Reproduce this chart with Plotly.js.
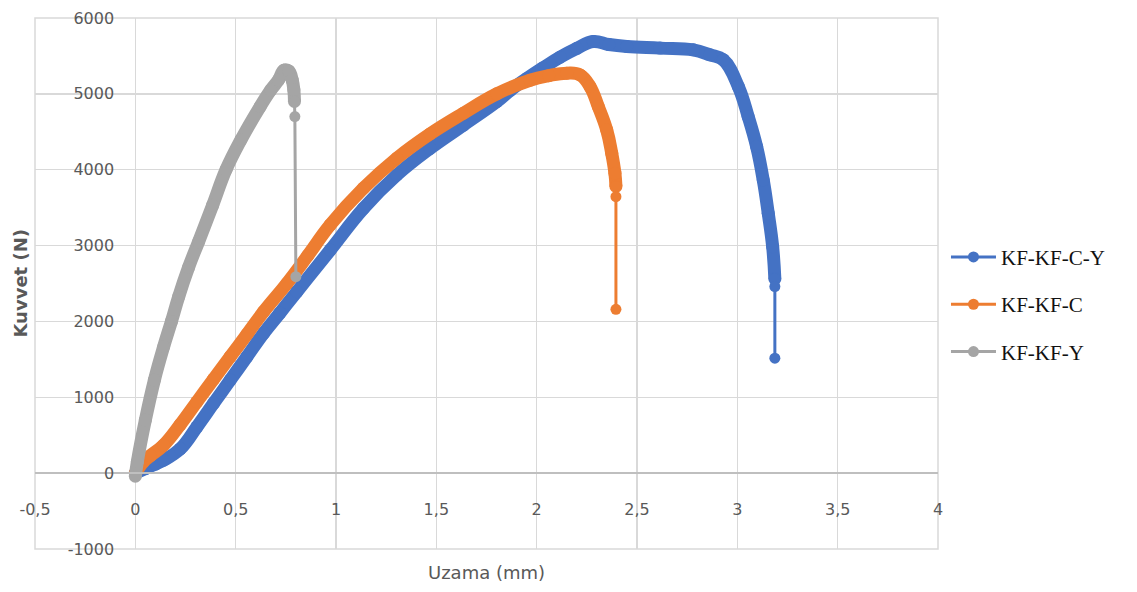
<!DOCTYPE html>
<html>
<head>
<meta charset="utf-8">
<script src="https://cdn.plot.ly/plotly-3.0.1.min.js"></script>
<style>html,body{margin:0;padding:0;background:#fff;}#chart{width:1137px;height:592px;}</style>
</head>
<body>
<div id="chart"></div>
<script>
// ---- Data ----
const seriesNames = ['KF-KF-C-Y', 'KF-KF-C', 'KF-KF-Y'];

// KF-KF-C-Y (blue)
const blueX = [0, 0.05, 0.1, 0.141, 0.224, 0.307, 0.39, 0.473, 0.556, 0.639, 0.72, 0.805, 0.971, 1.137, 1.303, 1.469, 1.635, 1.801, 1.87, 1.95, 2.03, 2.117, 2.2, 2.282, 2.36, 2.449, 2.615, 2.78, 2.864, 2.93, 3.005, 3.054, 3.096, 3.129, 3.154, 3.176, 3.187];
const blueY = [0, 60, 120, 171, 320, 611, 920, 1227, 1535, 1843, 2110, 2392, 2940, 3490, 3930, 4281, 4588, 4897, 5050, 5200, 5340, 5484, 5600, 5690, 5650, 5624, 5603, 5580, 5514, 5449, 5096, 4701, 4305, 3865, 3426, 2985, 2560];
const blueTailX = [3.187, 3.187, 3.187];
const blueTailY = [2560, 2460, 1515];

// KF-KF-C (orange)
const orangeX = [0, 0.04, 0.075, 0.141, 0.224, 0.307, 0.39, 0.473, 0.556, 0.639, 0.755, 0.86, 0.971, 1.137, 1.303, 1.469, 1.635, 1.801, 1.967, 2.06, 2.15, 2.216, 2.266, 2.307, 2.349, 2.374, 2.39, 2.395];
const orangeY = [0, 150, 230, 369, 640, 941, 1240, 1535, 1830, 2128, 2500, 2870, 3272, 3756, 4151, 4472, 4745, 5000, 5180, 5240, 5273, 5250, 5096, 4833, 4525, 4218, 3954, 3780];
const orangeTailX = [2.395, 2.395, 2.395];
const orangeTailY = [3780, 3645, 2160];

// KF-KF-Y (gray)
const grayX = [0, 0.01, 0.05, 0.095, 0.141, 0.18, 0.216, 0.265, 0.315, 0.385, 0.452, 0.526, 0.622, 0.675, 0.714, 0.74, 0.765, 0.782, 0.79, 0.793];
const grayY = [-40, 150, 700, 1227, 1666, 2000, 2326, 2710, 3050, 3530, 4000, 4393, 4833, 5050, 5185, 5310, 5300, 5180, 5050, 4900];
const grayTailX = [0.793, 0.795, 0.80];
const grayTailY = [4900, 4700, 2590];

// Tick labels
const xTickVals = [-0.5, 0, 0.5, 1, 1.5, 2, 2.5, 3, 3.5, 4];
const xTickText = ['-0,5', '0', '0,5', '1', '1,5', '2', '2,5', '3', '3,5', '4'];
const yTickVals = [-1000, 0, 1000, 2000, 3000, 4000, 5000, 6000];
const yTickText = ['-1000', '0', '1000', '2000', '3000', '4000', '5000', '6000'];

const xTitle = 'Uzama (mm)';
const yTitle = 'Kuvvet (N)';

const colors = ['#4472C4', '#ED7D31', '#A5A5A5'];

function body(x, y, color, name) {
  return {
    x: x, y: y, type: 'scatter', mode: 'lines+markers',
    line: {color: color, width: 13, shape: 'spline', smoothing: 1.2},
    marker: {color: color, size: 13},
    legendgroup: name, showlegend: false, hoverinfo: 'skip'
  };
}
function tail(x, y, color, name) {
  return {
    x: x, y: y, type: 'scatter', mode: 'lines+markers', name: name,
    line: {color: color, width: 3},
    marker: {color: color, size: 11},
    legendgroup: name, showlegend: true
  };
}

const data = [
  body(blueX, blueY, colors[0], seriesNames[0]),
  tail(blueTailX, blueTailY, colors[0], seriesNames[0]),
  body(orangeX, orangeY, colors[1], seriesNames[1]),
  tail(orangeTailX, orangeTailY, colors[1], seriesNames[1]),
  body(grayX, grayY, colors[2], seriesNames[2]),
  tail(grayTailX, grayTailY, colors[2], seriesNames[2])
];

const tickFont = {family: 'DejaVu Sans', size: 16, color: '#595959'};

const layout = {
  width: 1137, height: 592,
  margin: {l: 35, r: 199, t: 18, b: 43},
  paper_bgcolor: '#ffffff', plot_bgcolor: '#ffffff',
  showlegend: true,
  xaxis: {
    range: [-0.5, 4], tickvals: xTickVals, ticktext: xTickText,
    showgrid: true, gridcolor: '#d9d9d9', gridwidth: 1.5,
    zeroline: false, showline: true, linecolor: '#bfbfbf', linewidth: 2,
    anchor: 'free', position: 1 / 7,
    ticks: 'outside', ticklen: 22, tickcolor: 'rgba(0,0,0,0)',
    tickfont: tickFont
  },
  yaxis: {
    range: [-1000, 6000], tickvals: yTickVals, ticktext: yTickText,
    showgrid: true, gridcolor: '#d9d9d9', gridwidth: 1.5,
    zeroline: false, showline: false,
    anchor: 'free', position: 0.5 / 4.5,
    ticks: 'outside', ticklen: 18, tickcolor: 'rgba(0,0,0,0)',
    tickfont: tickFont
  },
  legend: {
    xref: 'container', yref: 'container',
    x: 0.832, y: 0.6, xanchor: 'left', yanchor: 'top',
    traceorder: 'grouped', tracegroupgap: 17,
    itemwidth: 45,
    font: {family: 'Liberation Serif', size: 21, color: '#111111'},
    bgcolor: 'rgba(0,0,0,0)'
  },
  shapes: [{
    type: 'rect', xref: 'paper', yref: 'paper', x0: 0, x1: 1, y0: 0, y1: 1,
    line: {color: '#d9d9d9', width: 1.5}, layer: 'below'
  }],
  annotations: [
    {text: xTitle, xref: 'paper', yref: 'paper', x: 0.5, y: -0.045,
     xanchor: 'center', yanchor: 'middle', showarrow: false,
     font: {family: 'DejaVu Sans', size: 18, color: '#595959'}},
    {text: '<b>' + yTitle + '</b>', xref: 'paper', yref: 'paper', x: -0.0166, y: 0.5,
     xanchor: 'center', yanchor: 'middle', showarrow: false, textangle: -90,
     font: {family: 'DejaVu Sans', size: 18, color: '#595959'}}
  ]
};

Plotly.newPlot('chart', data, layout, {displayModeBar: false, staticPlot: true});
</script>
</body>
</html>
